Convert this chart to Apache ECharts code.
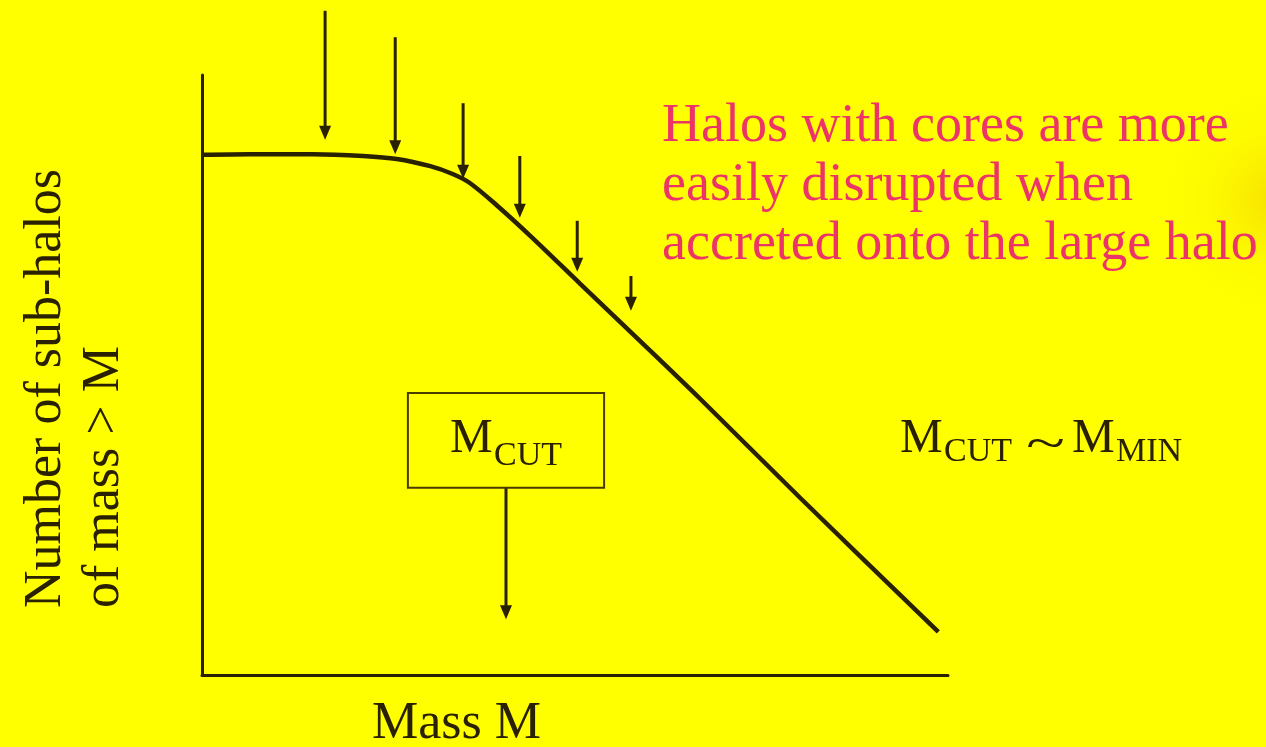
<!DOCTYPE html>
<html>
<head>
<meta charset="utf-8">
<script src="https://cdn.jsdelivr.net/npm/echarts@6/dist/echarts.min.js"></script>
<style>
html,body{margin:0;padding:0;background:#ffff00;}
#c{width:1266px;height:747px;}
</style>
</head>
<body>
<div id="c"></div>
<script>
// Cumulative sub-halo count curve (arbitrary units): mass M (0-100), N(>M) (0-100)
var curveMass  = [0, 6.4, 14.9, 21.6, 26.1, 30.6, 33.6, 35.9, 39.5, 44.0, 50.7, 58.7, 66.8, 80.2, 98.7];
var curveCount = [86.7, 86.8, 86.8, 86.5, 86.0, 84.8, 83.5, 82.0, 78.3, 73.2, 65.2, 55.7, 46.0, 29.5, 7.2];

// Downward arrows pointing at the curve: x, top of shaft, tip
var arrowMass = [16.5, 25.9, 35.0, 42.6, 50.3, 57.5];
var arrowTop  = [110.7, 106.3, 95.3, 86.5, 75.7, 66.5];
var arrowTip  = [89.2, 86.8, 82.7, 76.2, 67.2, 60.7];

// M_CUT box and its arrow down to the mass axis
var cutBox = [27.6, 53.9, 47.0, 31.2];   // x0, x1, yTop, yBottom
var cutArrow = [40.75, 31.2, 9.3];        // x, top, tip

var inkColor = '#2a2100';
var noteColor = '#ec3468';

var curveData = curveMass.map(function (m, i) { return [m, curveCount[i]]; });
var arrowData = arrowMass.map(function (m, i) { return [m, arrowTop[i], arrowTip[i]]; });
arrowData.push(cutArrow);

function renderArrow(params, api) {
  var top = api.coord([api.value(0), api.value(1)]);
  var tip = api.coord([api.value(0), api.value(2)]);
  var hw = 6, hh = 14;
  return {
    type: 'group',
    children: [
      { type: 'line', shape: { x1: top[0], y1: top[1], x2: tip[0], y2: tip[1] - hh + 2 },
        style: { stroke: inkColor, lineWidth: 3 } },
      { type: 'polygon', shape: { points: [[tip[0] - hw, tip[1] - hh], [tip[0] + hw, tip[1] - hh], [tip[0], tip[1]]] },
        style: { fill: inkColor } }
    ]
  };
}

function renderBox(params, api) {
  var p0 = api.coord([api.value(0), api.value(2)]);
  var p1 = api.coord([api.value(1), api.value(3)]);
  return {
    type: 'rect',
    shape: { x: p0[0], y: p0[1], width: p1[0] - p0[0], height: p1[1] - p0[1] },
    style: { fill: 'none', stroke: '#4a3c00', lineWidth: 2 }
  };
}

function txt(x, y, text, size, color, extra) {
  var o = {
    type: 'text', x: x, y: y, z: 100,
    style: { text: text, fontFamily: 'Liberation Serif', fontSize: size, fill: color,
             align: 'left', verticalAlign: 'middle' }
  };
  if (extra) { for (var k in extra) o[k] = extra[k]; }
  return o;
}

var chart = echarts.init(document.getElementById('c'));
chart.setOption({
  backgroundColor: '#ffff00',
  animation: false,
  grid: { left: 202, right: 318, top: 75, bottom: 72 },
  xAxis: {
    type: 'value', min: 0, max: 100,
    axisLine: { show: true, lineStyle: { color: inkColor, width: 3 } },
    axisTick: { show: false }, axisLabel: { show: false }, splitLine: { show: false }
  },
  yAxis: {
    type: 'value', min: 0, max: 100,
    axisLine: { show: true, lineStyle: { color: inkColor, width: 3 } },
    axisTick: { show: false }, axisLabel: { show: false }, splitLine: { show: false }
  },
  series: [
    {
      type: 'line', data: curveData, smooth: 0.3, symbol: 'none',
      lineStyle: { color: inkColor, width: 4.5 }, clip: false
    },
    { type: 'custom', data: arrowData, renderItem: renderArrow, clip: false },
    { type: 'custom', data: [cutBox], renderItem: renderBox, clip: false }
  ],
  graphic: [
    { type: 'circle', z: -10, shape: { cx: 1275, cy: 200, r: 120 },
      style: { fill: { type: 'radial', x: 0.5, y: 0.5, r: 0.5,
        colorStops: [{ offset: 0, color: 'rgba(240,200,0,0.55)' }, { offset: 1, color: 'rgba(255,255,0,0)' }] } } },
    txt(662, 127, 'Halos with cores are more', 54, noteColor),
    txt(662, 186, 'easily disrupted when', 54, noteColor),
    txt(662, 245, 'accreted onto the large halo', 54, noteColor),
    txt(450, 439, 'M', 48, inkColor),
    txt(494, 456, 'CUT', 34, inkColor),
    txt(900, 439, 'M', 48, inkColor),
    txt(944, 452, 'CUT', 34, inkColor),
    txt(1026, 446, '~', 48, inkColor, { scaleX: 1.5 }),
    txt(1072, 439, 'M', 48, inkColor),
    txt(1116, 452, 'MIN', 34, inkColor),
    txt(372, 724, 'Mass M', 52, inkColor),
    txt(46, 608, 'Number of sub-halos', 52, inkColor, { rotation: Math.PI / 2 }),
    txt(104, 608, 'of mass > M', 52, inkColor, { rotation: Math.PI / 2 })
  ]
});
</script>
</body>
</html>
